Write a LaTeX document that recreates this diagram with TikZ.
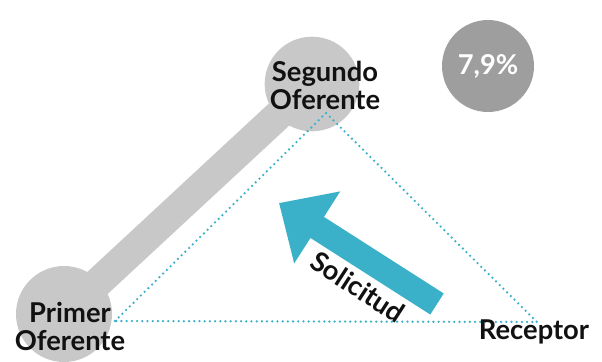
\documentclass[tikz,border=0pt]{standalone}
\usepackage{fontspec}
\setmainfont{Lato}
\usetikzlibrary{arrows.meta,positioning,backgrounds}
\definecolor{bandgray}{RGB}{200,200,200}
\definecolor{pctgray}{RGB}{158,158,158}
\definecolor{solteal}{RGB}{58,177,200}
\definecolor{txtblack}{RGB}{17,17,17}

\begin{document}
\begin{tikzpicture}[x=0.75pt,y=-0.75pt,
 blob/.style={circle,fill=bandgray,inner sep=0pt},
 lbl/.style={align=center,font=\fontsize{20.5}{21}\selectfont\bfseries,text=txtblack},
 dots/.style={solteal,line width=1.9pt,line cap=round,dash pattern=on 0pt off 3.9pt},
 arr/.style={solteal,line width=18.75pt,-{Triangle[length=34pt,width=62pt]}}]
\useasboundingbox (0,0) rectangle (602,361);
% oferentes y banda
\node[blob,minimum size=72pt] (primer) at (64,314) {};
\node[blob,minimum size=71pt] (segundo) at (312,84) {};
\begin{scope}[on background layer]
\draw[bandgray,line width=22.5pt] (primer.center) -- (segundo.center);
\end{scope}
\node[circle,fill=pctgray,minimum size=69pt,inner sep=0pt,
 font=\fontsize{20.5}{21}\selectfont\bfseries,text=white] (pct) at (488,66) {7,9\%};
% triangulo punteado
\coordinate (va) at (115,321);
\coordinate (vb) at (326,113);
\coordinate (vc) at (537,322);
\draw[dots] (va) -- (vb) -- (vc) -- cycle;
% solicitud
\coordinate (tail) at (437,304);
\coordinate (tip) at (279,203);
\draw[arr] (tail) -- (tip);
\node[lbl,rotate=-33] (sol) at (358,287) {Solicitud};
% etiquetas
\node[lbl] (primertxt) at (70,326) {Primer\\Oferente};
\node[lbl] (segundotxt) at (325,85) {Segundo\\Oferente};
\node[lbl,anchor=base] (receptor) at (534,339) {Receptor};
\end{tikzpicture}
\end{document}
